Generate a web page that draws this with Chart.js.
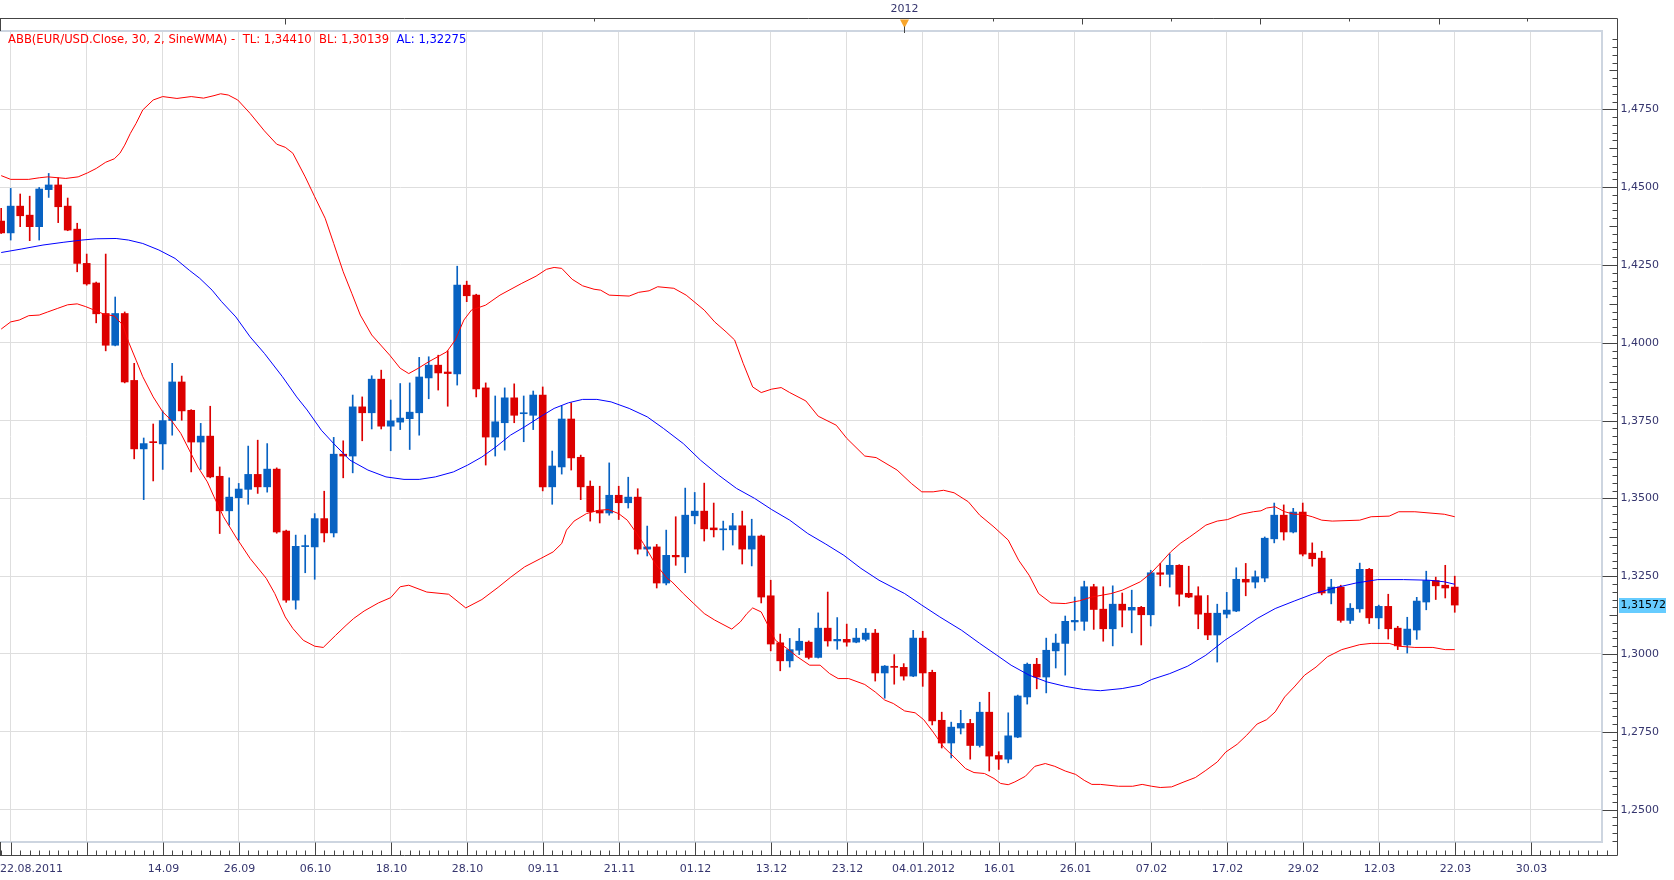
<!DOCTYPE html>
<html>
<head>
<meta charset="utf-8">
<title>EUR/USD – ABB</title>
<script src="https://cdn.jsdelivr.net/npm/chart.js@4.4.1/dist/chart.umd.min.js"></script>
<style>
  html, body { margin: 0; padding: 0; background: #fff; }
</style>
</head>
<body>
<canvas id="c" width="1674" height="880"></canvas>
<script>
// EUR/USD daily candles 22.08.2011 - 22.03.2012 with the ABB band (SineWMA, 30, 2).
// x is the trading-day index (0 = 22.08.2011), y is the price.

const open = [
  1.4391, 1.4353, 1.4439, 1.4410, 1.4373, 1.4492, 1.4507, 1.4439, 1.4365, 1.4255,
  1.4192, 1.4094, 1.3992, 1.4094, 1.3879, 1.3659, 1.3682, 1.3675, 1.3750, 1.3874,
  1.3783, 1.3681, 1.3700, 1.3571, 1.3460, 1.3502, 1.3529, 1.3577, 1.3537, 1.3594,
  1.3395, 1.3173, 1.3345, 1.3344, 1.3435, 1.3389, 1.3642, 1.3636, 1.3794, 1.3775,
  1.3883, 1.3732, 1.3745, 1.3756, 1.3775, 1.3887, 1.3928, 1.3906, 1.3900, 1.4185,
  1.4153, 1.3855, 1.3697, 1.3743, 1.3823, 1.3772, 1.3767, 1.3832, 1.3537, 1.3601,
  1.3755, 1.3632, 1.3539, 1.3461, 1.3453, 1.3510, 1.3486, 1.3504, 1.3337, 1.3344,
  1.3228, 1.3317, 1.3312, 1.3444, 1.3459, 1.3405, 1.3399, 1.3399, 1.3412, 1.3337,
  1.3379, 1.3187, 1.3036, 1.2978, 1.3012, 1.3038, 1.2989, 1.3083, 1.3042, 1.3047,
  1.3038, 1.3047, 1.3067, 1.2939, 1.2960, 1.2957, 1.2929, 1.3051, 1.2941, 1.2787,
  1.2714, 1.2762, 1.2777, 1.2706, 1.2813, 1.2674, 1.2662, 1.2733, 1.2862, 1.2967,
  1.2926, 1.3010, 1.3034, 1.3103, 1.3105, 1.3216, 1.3144, 1.3081, 1.3160, 1.3141,
  1.3150, 1.3126, 1.3261, 1.3256, 1.3285, 1.3195, 1.3187, 1.3131, 1.3061, 1.3128,
  1.3138, 1.3240, 1.3231, 1.3244, 1.3370, 1.3446, 1.3392, 1.3456, 1.3324, 1.3308,
  1.3196, 1.3215, 1.3108, 1.3145, 1.3272, 1.3116, 1.3153, 1.3083, 1.3029, 1.3077,
  1.3167, 1.3236, 1.3221, 1.3215
];
const high = [
  1.4432, 1.4496, 1.4478, 1.4471, 1.4499, 1.4544, 1.4530, 1.4465, 1.4384, 1.4285,
  1.4195, 1.4285, 1.4147, 1.4099, 1.3934, 1.3694, 1.3739, 1.3781, 1.3934, 1.3893,
  1.3785, 1.3741, 1.3796, 1.3601, 1.3566, 1.3548, 1.3668, 1.3687, 1.3676, 1.3598,
  1.3398, 1.3382, 1.3382, 1.3451, 1.3523, 1.3696, 1.3685, 1.3832, 1.3826, 1.3894,
  1.3912, 1.3816, 1.3869, 1.3871, 1.3953, 1.3955, 1.3960, 1.3974, 1.4246, 1.4198,
  1.4156, 1.3871, 1.3829, 1.3855, 1.3868, 1.3829, 1.3845, 1.3858, 1.3652, 1.3797,
  1.3807, 1.3639, 1.3556, 1.3539, 1.3614, 1.3539, 1.3568, 1.3531, 1.3411, 1.3352,
  1.3398, 1.3441, 1.3533, 1.3519, 1.3549, 1.3485, 1.3427, 1.3452, 1.3459, 1.3433,
  1.3382, 1.3237, 1.3064, 1.3050, 1.3082, 1.3042, 1.3132, 1.3199, 1.3117, 1.3096,
  1.3082, 1.3082, 1.3079, 1.2963, 1.2998, 1.2969, 1.3076, 1.3073, 1.2948, 1.2813,
  1.2781, 1.2819, 1.2790, 1.2845, 1.2877, 1.2686, 1.2811, 1.2868, 1.2971, 1.2986,
  1.3051, 1.3064, 1.3122, 1.3183, 1.3234, 1.3224, 1.3216, 1.3219, 1.3196, 1.3205,
  1.3153, 1.3269, 1.3291, 1.3322, 1.3287, 1.3282, 1.3216, 1.3188, 1.3160, 1.3198,
  1.3277, 1.3291, 1.3267, 1.3376, 1.3485, 1.3479, 1.3468, 1.3485, 1.3357, 1.3330,
  1.3240, 1.3221, 1.3162, 1.3292, 1.3275, 1.3157, 1.3192, 1.3089, 1.3118, 1.3182,
  1.3266, 1.3247, 1.3285, 1.3250
];
const low = [
  1.4351, 1.4330, 1.4373, 1.4328, 1.4330, 1.4467, 1.4386, 1.4360, 1.4228, 1.4185,
  1.4064, 1.3974, 1.3990, 1.3871, 1.3627, 1.3496, 1.3556, 1.3593, 1.3703, 1.3751,
  1.3585, 1.3593, 1.3566, 1.3387, 1.3414, 1.3366, 1.3481, 1.3516, 1.3520, 1.3388,
  1.3166, 1.3144, 1.3261, 1.3240, 1.3360, 1.3376, 1.3566, 1.3582, 1.3685, 1.3723,
  1.3723, 1.3653, 1.3721, 1.3657, 1.3703, 1.3820, 1.3848, 1.3796, 1.3864, 1.4132,
  1.3826, 1.3607, 1.3636, 1.3655, 1.3743, 1.3682, 1.3721, 1.3524, 1.3481, 1.3578,
  1.3591, 1.3496, 1.3427, 1.3421, 1.3446, 1.3432, 1.3469, 1.3321, 1.3315, 1.3212,
  1.3222, 1.3285, 1.3261, 1.3418, 1.3363, 1.3376, 1.3334, 1.3350, 1.3289, 1.3283,
  1.3164, 1.3010, 1.2946, 1.2958, 1.2998, 1.2984, 1.2987, 1.3025, 1.3015, 1.3025,
  1.3036, 1.3042, 1.2913, 1.2858, 1.2903, 1.2916, 1.2927, 1.2896, 1.2772, 1.2698,
  1.2666, 1.2743, 1.2662, 1.2701, 1.2624, 1.2629, 1.2650, 1.2731, 1.2839, 1.2888,
  1.2875, 1.2955, 1.2932, 1.3076, 1.3076, 1.3079, 1.3041, 1.3026, 1.3087, 1.3068,
  1.3029, 1.3090, 1.3219, 1.3215, 1.3154, 1.3181, 1.3081, 1.3046, 1.2974, 1.3116,
  1.3136, 1.3187, 1.3212, 1.3232, 1.3357, 1.3366, 1.3389, 1.3315, 1.3282, 1.3190,
  1.3161, 1.3102, 1.3098, 1.3134, 1.3098, 1.3081, 1.3048, 1.3014, 1.3003, 1.3047,
  1.3142, 1.3175, 1.3180, 1.3134
];
const close = [
  1.4353, 1.4439, 1.4408, 1.4373, 1.4494, 1.4507, 1.4437, 1.4362, 1.4255, 1.4189,
  1.4093, 1.3992, 1.4094, 1.3874, 1.3659, 1.3676, 1.3679, 1.3750, 1.3874, 1.3781,
  1.3681, 1.3700, 1.3569, 1.3460, 1.3504, 1.3530, 1.3577, 1.3537, 1.3594, 1.3392,
  1.3173, 1.3346, 1.3348, 1.3435, 1.3389, 1.3642, 1.3636, 1.3794, 1.3775, 1.3883,
  1.3732, 1.3749, 1.3758, 1.3777, 1.3890, 1.3928, 1.3903, 1.3901, 1.4185, 1.4151,
  1.3852, 1.3697, 1.3746, 1.3823, 1.3767, 1.3775, 1.3832, 1.3537, 1.3604, 1.3755,
  1.3630, 1.3537, 1.3457, 1.3453, 1.3510, 1.3486, 1.3504, 1.3337, 1.3344, 1.3228,
  1.3317, 1.3312, 1.3446, 1.3459, 1.3402, 1.3399, 1.3401, 1.3412, 1.3337, 1.3379,
  1.3183, 1.3032, 1.2978, 1.3014, 1.3041, 1.2989, 1.3083, 1.3042, 1.3047, 1.3038,
  1.3051, 1.3067, 1.2939, 1.2961, 1.2957, 1.2929, 1.3051, 1.2939, 1.2785, 1.2714,
  1.2765, 1.2777, 1.2706, 1.2813, 1.2672, 1.2662, 1.2737, 1.2865, 1.2967, 1.2926,
  1.3012, 1.3035, 1.3105, 1.3108, 1.3216, 1.3143, 1.3081, 1.3160, 1.3141, 1.3150,
  1.3126, 1.3261, 1.3256, 1.3285, 1.3192, 1.3183, 1.3128, 1.3061, 1.3131, 1.3141,
  1.3240, 1.3231, 1.3248, 1.3372, 1.3446, 1.3392, 1.3456, 1.3321, 1.3306, 1.3196,
  1.3215, 1.3108, 1.3147, 1.3272, 1.3116, 1.3153, 1.3081, 1.3026, 1.3080, 1.3170,
  1.3236, 1.3219, 1.3212, 1.31572
];

// band lines, read as [day index, price]
const upperBand = [
  [0, 1.4537], [1.0, 1.4525], [2.9, 1.4525], [4.0, 1.4530], [4.9, 1.4533], [6.8, 1.4528],
  [8.1, 1.4533], [9.1, 1.4546], [10.0, 1.4560], [11.0, 1.4580], [11.9, 1.4591], [12.5, 1.4609],
  [13.0, 1.4635], [13.6, 1.4673], [14.2, 1.4705], [14.9, 1.4748], [16.0, 1.4780], [17.0, 1.4791],
  [18.5, 1.4785], [20.0, 1.4791], [21.3, 1.4786], [22.4, 1.4794], [23.1, 1.4800], [23.9, 1.4796],
  [24.9, 1.4780], [26.2, 1.4737], [27.7, 1.4681], [29.0, 1.4638], [29.9, 1.4628], [30.7, 1.4609],
  [32.0, 1.4533], [33.0, 1.4469], [34.1, 1.4400], [35.0, 1.4319], [36.0, 1.4228], [36.9, 1.4159],
  [37.8, 1.4089], [39.0, 1.4025], [40.9, 1.3960], [42.0, 1.3918], [42.9, 1.3901], [43.9, 1.3918],
  [45.0, 1.3939], [46.9, 1.3971], [47.8, 1.4009], [48.7, 1.4073], [49.5, 1.4105], [51.0, 1.4121],
  [52.5, 1.4153], [54.8, 1.4191], [56.3, 1.4214], [57.4, 1.4236], [58.2, 1.4242], [59.0, 1.4239],
  [60.1, 1.4204], [61.2, 1.4183], [62.4, 1.4172], [63.1, 1.4169], [64.0, 1.4153], [66.1, 1.4150],
  [67.1, 1.4162], [68.2, 1.4167], [69.1, 1.4180], [70.8, 1.4175], [72.1, 1.4153], [74.0, 1.4105],
  [75.1, 1.4067], [76.3, 1.4035], [77.2, 1.4009], [78.1, 1.3934], [79.1, 1.3858], [80.0, 1.3840],
  [81.1, 1.3851], [82.1, 1.3856], [83.0, 1.3840], [84.7, 1.3813], [86.0, 1.3764], [87.9, 1.3735],
  [89.0, 1.3693], [90.9, 1.3636], [92.1, 1.3631], [94.3, 1.3591], [95.8, 1.3548], [96.9, 1.3521],
  [98.1, 1.3521], [99.2, 1.3526], [100.3, 1.3518], [101.8, 1.3489], [103.0, 1.3446], [104.5, 1.3408],
  [106.0, 1.3366], [107.1, 1.3301], [108.2, 1.3253], [109.2, 1.3194], [110.5, 1.3164], [112.0, 1.3162],
  [113.5, 1.3171], [114.8, 1.3183], [116.8, 1.3194], [118.0, 1.3205], [119.9, 1.3232], [121.0, 1.3259],
  [122.0, 1.3291], [123.1, 1.3328], [124.1, 1.3355], [125.1, 1.3376], [126.1, 1.3398], [126.8, 1.3414],
  [128.0, 1.3427], [129.1, 1.3432], [130.5, 1.3449], [131.8, 1.3457], [132.6, 1.3460], [133.2, 1.3469],
  [134.1, 1.3473], [135.1, 1.3457], [136.1, 1.3449], [137.0, 1.3449], [138.0, 1.3441], [139.0, 1.3430],
  [140.1, 1.3427], [143.0, 1.3430], [144.2, 1.3441], [146.1, 1.3443], [147.1, 1.3457], [148.8, 1.3457],
  [151.9, 1.3449], [153.0, 1.3441]
];
const lowerBand = [
  [0, 1.4044], [1.0, 1.4067], [1.9, 1.4073], [2.9, 1.4087], [4.0, 1.4089], [4.9, 1.4099],
  [5.9, 1.4110], [7.0, 1.4122], [8.0, 1.4125], [8.9, 1.4116], [9.8, 1.4105], [10.8, 1.4092],
  [11.9, 1.4086], [12.8, 1.4057], [13.4, 1.4003], [14.2, 1.3944], [14.9, 1.3891], [16.0, 1.3826],
  [17.0, 1.3778], [17.9, 1.3751], [18.9, 1.3709], [19.8, 1.3655], [20.7, 1.3601], [21.7, 1.3553],
  [22.4, 1.3505], [23.4, 1.3441], [24.7, 1.3376], [26.2, 1.3307], [27.9, 1.3243], [28.8, 1.3194],
  [29.9, 1.3119], [30.7, 1.3082], [31.8, 1.3044], [33.0, 1.3025], [33.9, 1.3021], [35.2, 1.3060],
  [36.3, 1.3092], [37.1, 1.3114], [38.2, 1.3138], [39.7, 1.3164], [41.0, 1.3181], [42.0, 1.3216],
  [42.9, 1.3221], [44.8, 1.3199], [47.1, 1.3192], [48.9, 1.3148], [50.6, 1.3175], [52.3, 1.3214],
  [53.6, 1.3246], [55.1, 1.3280], [56.8, 1.3307], [58.1, 1.3328], [59.0, 1.3355], [59.5, 1.3398],
  [60.3, 1.3427], [61.6, 1.3451], [62.9, 1.3462], [63.9, 1.3464], [65.0, 1.3451], [65.9, 1.3430],
  [66.9, 1.3387], [67.6, 1.3355], [68.8, 1.3292], [70.1, 1.3243], [70.6, 1.3232], [71.8, 1.3194],
  [72.9, 1.3162], [74.0, 1.3130], [75.1, 1.3109], [76.9, 1.3080], [77.8, 1.3103], [78.5, 1.3130],
  [79.1, 1.3148], [80.0, 1.3135], [80.8, 1.3087], [81.5, 1.3044], [82.7, 1.3018], [83.8, 1.2991],
  [85.1, 1.2964], [86.2, 1.2964], [87.2, 1.2937], [88.1, 1.2921], [89.2, 1.2921], [90.9, 1.2902],
  [92.0, 1.2878], [93.0, 1.2852], [93.9, 1.2841], [95.1, 1.2817], [96.2, 1.2811], [97.1, 1.2789],
  [98.1, 1.2749], [99.2, 1.2701], [100.3, 1.2669], [101.5, 1.2632], [102.4, 1.2619], [103.5, 1.2616],
  [104.5, 1.2600], [105.2, 1.2584], [106.0, 1.2580], [106.7, 1.2589], [107.8, 1.2607], [108.8, 1.2639],
  [109.9, 1.2648], [110.9, 1.2639], [112.0, 1.2624], [113.1, 1.2613], [114.0, 1.2594], [114.8, 1.2581],
  [115.7, 1.2581], [117.6, 1.2575], [119.1, 1.2575], [120.1, 1.2581], [121.1, 1.2575], [122.0, 1.2571],
  [123.2, 1.2573], [124.5, 1.2589], [125.7, 1.2603], [126.8, 1.2626], [128.0, 1.2653], [128.9, 1.2685],
  [130.1, 1.2710], [131.1, 1.2739], [132.2, 1.2775], [133.2, 1.2789], [134.1, 1.2814], [135.1, 1.2862],
  [136.1, 1.2894], [137.2, 1.2932], [138.4, 1.2958], [139.6, 1.2991], [141.1, 1.3014], [143.0, 1.3030],
  [144.2, 1.3034], [146.1, 1.3034], [147.1, 1.3025], [148.8, 1.3021], [150.7, 1.3021], [152.0, 1.3014],
  [153.0, 1.3014]
];
const midLine = [
  [0, 1.4290], [2.1, 1.4301], [4.4, 1.4314], [6.6, 1.4323], [8.5, 1.4330], [10.0, 1.4334],
  [12.1, 1.4335], [13.4, 1.4330], [14.9, 1.4319], [16.6, 1.4298], [18.3, 1.4271], [19.8, 1.4233],
  [20.9, 1.4207], [22.2, 1.4169], [23.2, 1.4132], [24.7, 1.4083], [26.2, 1.4019], [27.7, 1.3966],
  [29.6, 1.3891], [31.1, 1.3826], [32.2, 1.3784], [33.7, 1.3719], [35.0, 1.3676], [36.7, 1.3623],
  [38.6, 1.3591], [40.5, 1.3569], [42.4, 1.3561], [44.0, 1.3561], [45.7, 1.3569], [47.6, 1.3585],
  [49.1, 1.3607], [50.6, 1.3633], [52.1, 1.3666], [53.6, 1.3703], [55.1, 1.3730], [57.0, 1.3767],
  [58.2, 1.3789], [59.7, 1.3807], [61.2, 1.3818], [62.7, 1.3818], [64.2, 1.3810], [66.1, 1.3789],
  [68.0, 1.3762], [69.7, 1.3725], [71.8, 1.3676], [73.6, 1.3623], [75.5, 1.3575], [77.4, 1.3532],
  [79.3, 1.3500], [81.1, 1.3464], [83.0, 1.3430], [84.9, 1.3387], [86.8, 1.3353], [88.7, 1.3317],
  [90.5, 1.3275], [92.4, 1.3237], [95.1, 1.3194], [96.9, 1.3157], [98.8, 1.3119], [101.1, 1.3076],
  [103.0, 1.3034], [104.8, 1.2996], [106.3, 1.2964], [108.2, 1.2932], [110.1, 1.2910], [112.0, 1.2896],
  [113.9, 1.2886], [115.7, 1.2882], [118.0, 1.2889], [119.9, 1.2900], [121.1, 1.2918], [123.0, 1.2937],
  [124.9, 1.2961], [126.8, 1.2996], [128.8, 1.3044], [130.3, 1.3074], [132.2, 1.3114], [134.1, 1.3146],
  [136.1, 1.3170], [138.0, 1.3192], [140.3, 1.3212], [142.6, 1.3228], [144.9, 1.3239], [147.6, 1.3239],
  [150.3, 1.3237], [151.9, 1.3232], [153.0, 1.3224]
];

// indicator readout
const indicatorName = "ABB(EUR/USD.Close, 30, 2, SineWMA)";
const topLine = 1.34410, bottomLine = 1.30139, avgLine = 1.32275;

// date axis: labelled day indexes, gridlines every 8 trading days
const xLabels = [
  [0, "22.08.2011"], [17, "14.09"], [25, "26.09"], [33, "06.10"], [41, "18.10"], [49, "28.10"],
  [57, "09.11"], [65, "21.11"], [73, "01.12"], [81, "13.12"], [89, "23.12"], [97, "04.01.2012"],
  [105, "16.01"], [113, "26.01"], [121, "07.02"], [129, "17.02"], [137, "29.02"], [145, "12.03"],
  [153, "22.03"], [161, "30.03"]
];
const gridDays = [1, 9, 17, 25, 33, 41, 49, 57, 65, 73, 81, 89, 97, 105, 113, 121, 129, 137, 145, 153, 161];
const yearMark = [95, "2012"];
const bandTicks = [29.9, 62.4, 104.4, 113.8, 123.1, 132.5, 141.9, 151.3, 160.6];
const bandTickLong = [1, 0, 0, 1, 0, 1, 0, 1, 0];

const priceGrid = [1.25, 1.275, 1.3, 1.325, 1.35, 1.375, 1.4, 1.425, 1.45, 1.475];

const UP = "#0862c2", DOWN = "#dc0000";
const AXIS = "#444444", TXT = "#35356e";
const FONT = '11px "DejaVu Sans", Verdana, sans-serif';
const LEGEND_FONT = '11.6px "DejaVu Sans", Verdana, sans-serif';

const fmt = (v, d) => v.toFixed(d).replace(".", ",");
const candleColors = open.map((o, i) => (close[i] >= o ? UP : DOWN));
const toXY = (pairs) => pairs.map(([x, y]) => ({ x, y }));

const decor = {
  id: "decor",
  afterDraw(chart) {
    const { ctx, chartArea: a } = chart;
    const x = chart.scales.x, y = chart.scales.y;
    const axisR = Math.round(a.right) + 15.5;
    const axisB = Math.round(a.bottom) + 13.5;
    const axisT = Math.round(a.top) - 12.5;
    const px = (v) => Math.round(x.getPixelForValue(v)) + 0.5;
    const py = (v) => Math.round(y.getPixelForValue(v)) + 0.5;

    ctx.save();
    // plot frame
    ctx.strokeStyle = "#cdd5e0";
    ctx.lineWidth = 2;
    ctx.beginPath();
    ctx.moveTo(0, a.top);
    ctx.lineTo(a.right, a.top);
    ctx.lineTo(a.right, a.bottom);
    ctx.lineTo(0, a.bottom);
    ctx.stroke();

    // axis lines
    ctx.strokeStyle = AXIS;
    ctx.lineWidth = 1;
    ctx.beginPath();
    ctx.moveTo(0, axisT); ctx.lineTo(axisR, axisT);
    ctx.moveTo(axisR, axisT); ctx.lineTo(axisR, axisB);
    ctx.moveTo(0, axisB); ctx.lineTo(axisR, axisB);
    ctx.moveTo(0.5, axisT); ctx.lineTo(0.5, a.top);
    ctx.moveTo(0.5, axisB); ctx.lineTo(0.5, a.bottom);
    ctx.stroke();

    // bottom ticks: one per trading day, long at gridlines
    ctx.beginPath();
    for (let d = 0; d <= 169; d++) {
      const xx = px(d);
      if (xx > axisR - 8) break;
      const len = gridDays.includes(d) ? 13 : 5;
      ctx.moveTo(xx, axisB); ctx.lineTo(xx, axisB - len);
    }
    // top band ticks
    bandTicks.forEach((d, i) => {
      const xx = px(d);
      ctx.moveTo(xx, axisT); ctx.lineTo(xx, axisT + (bandTickLong[i] ? 6 : 3));
    });
    // right ticks every 0.0025
    const k0 = Math.ceil(y.min / 0.0025), k1 = Math.floor(y.max / 0.0025);
    for (let k = k0; k <= k1; k++) {
      const yy = py(k * 0.0025);
      if (yy < a.top + 2 || yy > a.bottom) continue;
      const len = k % 10 === 0 ? 15 : k % 5 === 0 ? 8 : 5;
      ctx.moveTo(axisR, yy); ctx.lineTo(axisR - len, yy);
    }
    ctx.stroke();

    // year marker
    const ym = px(yearMark[0]);
    ctx.fillStyle = "#f7a52c";
    ctx.beginPath();
    ctx.moveTo(ym - 4.5, axisT + 1);
    ctx.lineTo(ym + 4.5, axisT + 1);
    ctx.lineTo(ym, axisT + 9.5);
    ctx.closePath();
    ctx.fill();
    ctx.strokeStyle = AXIS;
    ctx.beginPath();
    ctx.moveTo(ym, axisT + 8); ctx.lineTo(ym, a.top + 2);
    ctx.stroke();

    ctx.font = FONT;
    ctx.fillStyle = TXT;
    ctx.textBaseline = "middle";
    ctx.textAlign = "center";
    ctx.fillText(yearMark[1], ym, axisT - 9);

    // date labels
    xLabels.forEach(([d, t], i) => {
      ctx.textAlign = i === 0 ? "left" : "center";
      ctx.fillText(t, i === 0 ? 0 : px(d), axisB + 14);
    });

    // price labels
    ctx.textAlign = "left";
    priceGrid.forEach((v) => ctx.fillText(fmt(v, 4), axisR + 3, py(v)));

    // last price box
    const last = close[close.length - 1];
    const ly = y.getPixelForValue(last);
    ctx.fillStyle = "#66ccff";
    ctx.fillRect(axisR + 1.5, Math.round(ly) - 7, 47, 15);
    ctx.fillStyle = "#000";
    ctx.fillText(fmt(last, 5), axisR + 3, Math.round(ly) + 0.5);

    // indicator readout
    ctx.font = LEGEND_FONT;
    let tx = 8;
    const ty = a.top + 8.5;
    const pieces = [
      [indicatorName + " -  ", "#ff0000"],
      ["TL: " + fmt(topLine, 5) + "  ", "#ff0000"],
      ["BL: " + fmt(bottomLine, 5) + "  ", "#ff0000"],
      ["AL: " + fmt(avgLine, 5), "#0000ff"]
    ];
    pieces.forEach(([t, c]) => {
      ctx.fillStyle = c;
      ctx.fillText(t, tx, ty);
      tx += ctx.measureText(t).width;
    });
    ctx.restore();
  }
};

const lineDs = (pairs, color) => ({
  type: "line",
  data: toXY(pairs),
  borderColor: color,
  borderWidth: 1,
  pointRadius: 0,
  tension: 0,
  fill: false,
  order: 0
});

new Chart(document.getElementById("c"), {
  type: "bar",
  data: {
    datasets: [
      lineDs(upperBand, "#ff0000"),
      lineDs(lowerBand, "#ff0000"),
      lineDs(midLine, "#0000ff"),
      {
        type: "bar",
        data: low.map((l, i) => ({ x: i, y: [l, high[i]] })),
        backgroundColor: candleColors,
        barThickness: 1,
        grouped: false,
        order: 2
      },
      {
        type: "bar",
        data: open.map((o, i) => ({ x: i, y: [o, close[i]] })),
        backgroundColor: candleColors,
        barThickness: 7,
        minBarLength: 1,
        grouped: false,
        order: 1
      }
    ]
  },
  options: {
    responsive: false,
    animation: false,
    events: [],
    layout: { padding: { left: 0, top: 31, right: 72, bottom: 38 } },
    plugins: { legend: { display: false }, tooltip: { enabled: false } },
    scales: {
      x: {
        type: "linear",
        min: -0.126,
        max: 168.5,
        offset: false,
        grid: { color: "#dedede", drawTicks: false, offset: false },
        border: { display: false },
        ticks: { display: false },
        afterBuildTicks: (s) => { s.ticks = gridDays.map((v) => ({ value: v })); }
      },
      y: {
        type: "linear",
        position: "right",
        min: 1.23959,
        max: 1.50017,
        grid: { color: "#dedede", drawTicks: false },
        border: { display: false },
        ticks: { display: false },
        afterBuildTicks: (s) => { s.ticks = priceGrid.map((v) => ({ value: v })); }
      }
    }
  },
  plugins: [decor]
});
</script>
</body>
</html>
